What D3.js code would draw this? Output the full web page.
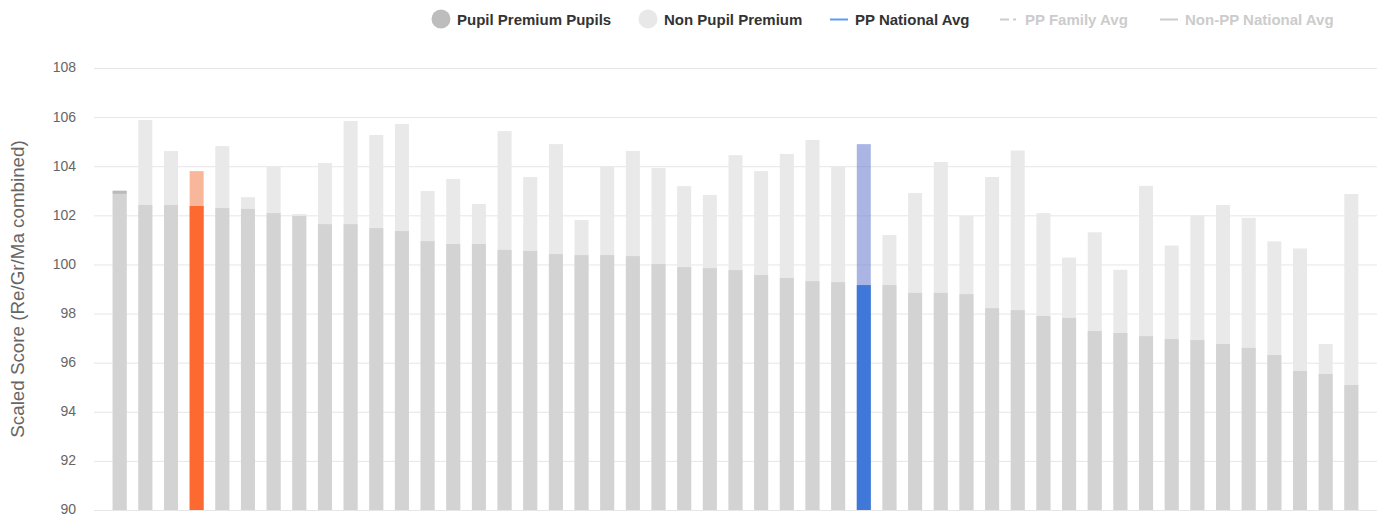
<!DOCTYPE html>
<html>
<head>
<meta charset="utf-8">
<script src="https://cdn.jsdelivr.net/npm/d3@7"></script>
<style>
  html, body { margin: 0; padding: 0; background: #fff; }
  svg { display: block; font-family: "Liberation Sans", Arial, Helvetica, sans-serif; }
</style>
</head>
<body>
<svg id="chart" width="1380" height="515"></svg>
<script>
// ---- data ----
const categories = d3.range(1, 50).map(i => "School " + i);
const ppValues = [103.0, 102.42, 102.42, 102.38, 102.30, 102.26, 102.09, 101.97, 101.64, 101.64,
  101.48, 101.36, 100.95, 100.83, 100.83, 100.59, 100.55, 100.42, 100.38, 100.38,
  100.34, 100.02, 99.89, 99.85, 99.77, 99.57, 99.45, 99.32, 99.28, 99.16,
  99.16, 98.84, 98.84, 98.79, 98.22, 98.14, 97.90, 97.82, 97.29, 97.21,
  97.08, 96.96, 96.92, 96.76, 96.60, 96.31, 95.66, 95.54, 95.09];
const nonPpValues = [102.88, 105.88, 104.62, 103.80, 104.82, 102.74, 104.0, 102.05, 104.13, 105.84,
  105.27, 105.72, 102.99, 103.48, 102.46, 105.43, 103.56, 104.90, 101.81, 104.0,
  104.62, 103.93, 103.19, 102.83, 104.45, 103.80, 104.50, 105.07, 103.97, 104.90,
  101.20, 102.91, 104.17, 101.97, 103.56, 104.64, 102.09, 100.28, 101.31, 99.78,
  103.20, 100.77, 102.0, 102.42, 101.90, 100.94, 100.65, 96.76, 102.87];
const highlightIndex = 3;   // this school
const nationalIndex = 29;   // national
const yTicks = [90, 92, 94, 96, 98, 100, 102, 104, 106, 108];
const legendItems = [
  { label: "Pupil Premium Pupils", type: "circle", color: "#bdbdbd", active: true },
  { label: "Non Pupil Premium", type: "circle", color: "#e8e8e8", active: true },
  { label: "PP National Avg", type: "line", color: "#5b9cf0", active: true },
  { label: "PP Family Avg", type: "dash", color: "#cccccc", active: false },
  { label: "Non-PP National Avg", type: "line", color: "#cccccc", active: false }
];
const yTitle = "Scaled Score (Re/Gr/Ma combined)";

// ---- layout ----
const plot = { left: 94, right: 1377, top: 68, bottom: 510 };
const svg = d3.select("#chart");

const x = d3.scaleBand()
  .domain(categories)
  .range([plot.left + 12.83, plot.right - 12.83])
  .paddingInner(0.454)
  .paddingOuter(0.227);

const y = d3.scaleLinear().domain([90, 108]).range([plot.bottom, plot.top]);

// gridlines + tick labels via axis
const yAxis = d3.axisLeft(y).tickValues(yTicks)
  .tickSize(-(plot.right - plot.left)).tickPadding(18).tickFormat(d3.format("d"));
const gAxis = svg.append("g")
  .attr("transform", `translate(${plot.left},0)`)
  .call(yAxis);
gAxis.select(".domain").remove();
gAxis.selectAll(".tick line").attr("stroke", "#e6e6e6").attr("stroke-width", 1);
gAxis.selectAll(".tick text").attr("fill", "#666").attr("font-size", 14)
  .attr("dy", "0.28em")
  .attr("font-family", "Liberation Sans, Arial, sans-serif");

// y title
svg.append("text")
  .attr("transform", `translate(23.5, 289) rotate(-90)`)
  .attr("text-anchor", "middle")
  .attr("fill", "#666")
  .attr("font-size", 18.8)
  .text(yTitle);

// colors
function colNon(i) {
  if (i === highlightIndex) return "#f8b79b";
  if (i === nationalIndex) return "rgba(120,136,210,0.62)";
  return "#e9e9e9";
}
function colPP(i) {
  if (i === highlightIndex) return "#fc6a32";
  if (i === nationalIndex) return "#3f78d8";
  return "#d3d3d3";
}

const bars = svg.append("g");
// non-PP bars (behind)
bars.selectAll("rect.non").data(nonPpValues).join("rect")
  .attr("class", "non")
  .attr("x", (d, i) => x(categories[i]))
  .attr("width", x.bandwidth())
  .attr("y", d => y(d))
  .attr("height", d => y(90) - y(d))
  .attr("fill", (d, i) => colNon(i));
// PP bars (front)
bars.selectAll("rect.pp").data(ppValues).join("rect")
  .attr("class", "pp")
  .attr("x", (d, i) => x(categories[i]))
  .attr("width", x.bandwidth())
  .attr("y", d => y(d))
  .attr("height", d => y(90) - y(d))
  .attr("fill", (d, i) => colPP(i));
// PP above non-PP: darker cap
bars.selectAll("rect.cap").data(ppValues.map((d, i) => ({ d, i })).filter(o => o.d > nonPpValues[o.i]))
  .join("rect")
  .attr("class", "cap")
  .attr("x", o => x(categories[o.i]))
  .attr("width", x.bandwidth())
  .attr("y", o => y(o.d))
  .attr("height", o => y(nonPpValues[o.i]) - y(o.d))
  .attr("fill", "#bababa");

// legend
const legendX = [441, 648, 830, 1000, 1160];
const lg = svg.append("g").attr("font-size", 15).attr("font-weight", "bold");
legendItems.forEach((it, k) => {
  const g = lg.append("g").attr("transform", `translate(${legendX[k]},19)`);
  let tx;
  if (it.type === "circle") {
    g.append("circle").attr("cx", 0).attr("cy", 0).attr("r", 9.5).attr("fill", it.color);
    tx = 16;
  } else {
    g.append("line").attr("x1", 0).attr("x2", 18).attr("y1", 0.5).attr("y2", 0.5)
      .attr("stroke", it.color).attr("stroke-width", 2)
      .attr("stroke-dasharray", it.type === "dash" ? "9,4,3,2" : null);
    tx = 25;
  }
  g.append("text").attr("x", tx).attr("y", 5.5)
    .attr("fill", it.active ? "#333" : "#cccccc")
    .text(it.label);
});
</script>
</body>
</html>
